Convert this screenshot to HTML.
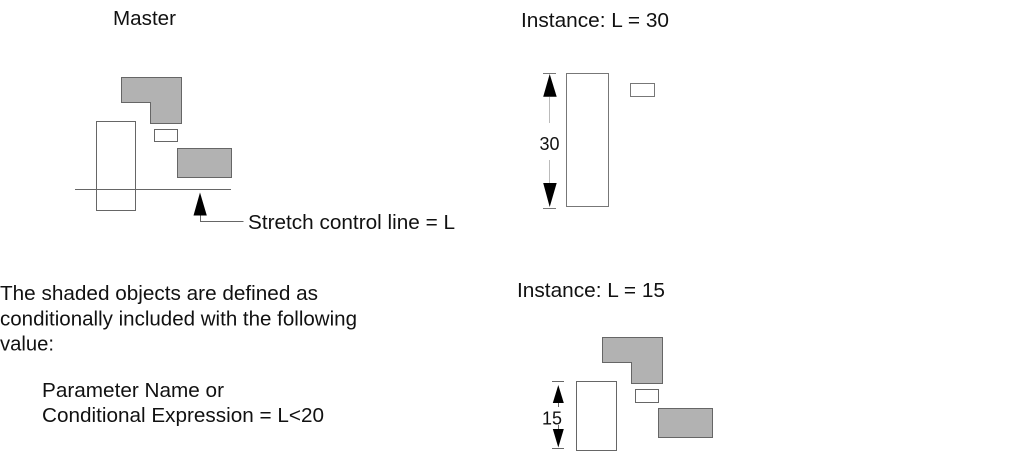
<!DOCTYPE html>
<html>
<head>
<meta charset="utf-8">
<style>
html,body{margin:0;padding:0;background:#fff;width:1025px;height:461px;overflow:hidden}
svg{display:block}
text{font-family:"Liberation Sans",Arial,sans-serif;font-size:20.5px;fill:#111}
text.n{font-size:18px}
</style>
</head>
<body>
<svg width="1025" height="461" viewBox="0 0 1025 461" xmlns="http://www.w3.org/2000/svg">
<text x="113" y="25" textLength="63" lengthAdjust="spacingAndGlyphs">Master</text>
<text x="521" y="27" textLength="148" lengthAdjust="spacingAndGlyphs">Instance: L = 30</text>
<text x="517" y="297" textLength="148" lengthAdjust="spacingAndGlyphs">Instance: L = 15</text>
<text x="248" y="229" textLength="207" lengthAdjust="spacingAndGlyphs">Stretch control line = L</text>
<text x="0" y="300" textLength="318" lengthAdjust="spacingAndGlyphs">The shaded objects are defined as</text>
<text x="0" y="325.5" textLength="357" lengthAdjust="spacingAndGlyphs">conditionally included with the following</text>
<text x="0" y="350.5" textLength="54" lengthAdjust="spacingAndGlyphs">value:</text>
<text x="42" y="397" textLength="182" lengthAdjust="spacingAndGlyphs">Parameter Name or</text>
<text x="42" y="422" textLength="282" lengthAdjust="spacingAndGlyphs">Conditional Expression = L&lt;20</text>

<g stroke="#666" stroke-width="1">
<path d="M121.5 77.5H181.5V123.5H150.5V102.5H121.5Z" fill="#b2b2b2"/>
<rect x="177.5" y="148.5" width="54" height="29" fill="#b2b2b2"/>
<rect x="154.5" y="129.5" width="23" height="12" fill="#fff"/>
<rect x="96.5" y="121.5" width="39" height="89" fill="none"/>
<path d="M75 189.5H231" fill="none"/>
<path d="M200.5 215V221.5H243.5" fill="none"/>
</g>
<path d="M200 192.5L206.8 215.5H193.5Z" fill="#000"/>

<g stroke="#777" stroke-width="1">
<rect x="566.5" y="73.5" width="42" height="133" fill="#fff"/>
<rect x="630.5" y="83.5" width="24" height="13" fill="#fff"/>
<path d="M543 73.5H556M543 208.5H556" fill="none"/>
</g>
<path d="M549.5 97V123M549.5 160V183" stroke="#bbb" stroke-width="1" fill="none"/>
<path d="M549.7 74L556.7 96.7H543.2Z" fill="#000"/>
<path d="M549.7 207L556.7 183H543.2Z" fill="#000"/>
<text class="n" x="539.5" y="150" textLength="20" lengthAdjust="spacingAndGlyphs">30</text>

<g stroke="#666" stroke-width="1">
<path d="M602.5 337.5H662.5V383.5H631.5V362.5H602.5Z" fill="#b2b2b2"/>
<rect x="658.5" y="408.5" width="54" height="29" fill="#b2b2b2"/>
<rect x="635.5" y="389.5" width="23" height="13" fill="#fff"/>
<rect x="576.5" y="381.5" width="40" height="69" fill="#fff"/>
<path d="M552 381.5H564M552 448.5H564M558.5 403V407M558.5 425V429" fill="none"/>
</g>
<path d="M558.3 385L563.8 403H552.8Z" fill="#000"/>
<path d="M558.3 447.5L563.8 429H552.8Z" fill="#000"/>
<text class="n" x="542" y="424.5" textLength="20" lengthAdjust="spacingAndGlyphs">15</text>
</svg>
</body>
</html>
